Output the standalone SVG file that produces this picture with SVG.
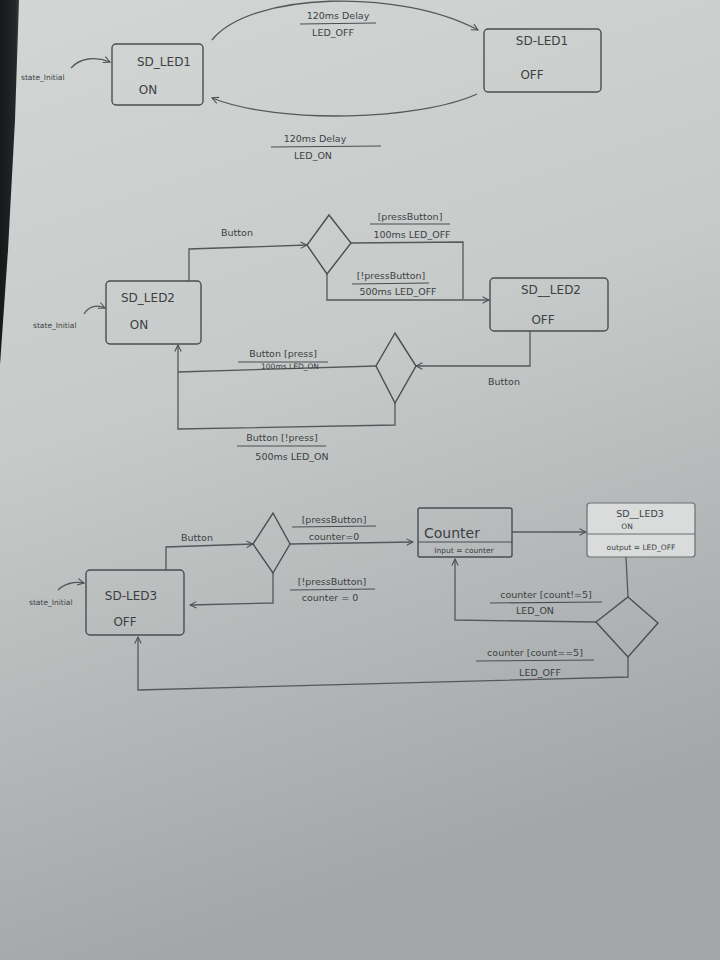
<svg xmlns="http://www.w3.org/2000/svg" width="720" height="960" viewBox="0 0 720 960">
<defs>
<linearGradient id="paper" x1="0" y1="0" x2="0.25" y2="1">
<stop offset="0" stop-color="#d3d6d5"/>
<stop offset="0.45" stop-color="#c6cac9"/>
<stop offset="1" stop-color="#a2a6a7"/>
</linearGradient>
<linearGradient id="edge" x1="0" y1="0" x2="1" y2="0">
<stop offset="0" stop-color="#16181a"/>
<stop offset="0.8" stop-color="#24272a"/>
<stop offset="1" stop-color="#3a3d40"/>
</linearGradient>
<marker id="arr" viewBox="0 0 10 10" refX="9" refY="5" markerWidth="8" markerHeight="8" orient="auto" markerUnits="userSpaceOnUse">
<path d="M1,1 L9,5 L1,9" fill="none" stroke="#4a4e52" stroke-width="1.3"/>
</marker>
<style>
.ln{fill:none;stroke:#54585c;stroke-width:1.3}
.box{fill:none;stroke:#4a4e52;stroke-width:1.4}
.t{font-family:"DejaVu Sans","Liberation Sans",sans-serif;fill:#3c3f43}
.n{font-size:12px}
.l{font-size:9.5px}
.s{font-size:7.5px}
.u{stroke:#4a4e52;stroke-width:1.1}
</style>
</defs>
<rect width="720" height="960" fill="url(#paper)"/>
<polygon points="0,0 19,0 15,120 8,250 0,365" fill="url(#edge)"/>

<g id="connectors">
<path class="ln" d="M212,40 C250,-8 400,-12 478,30" marker-end="url(#arr)"/>
<path class="ln" d="M477,94 C420,120 280,125 212,98" marker-end="url(#arr)"/>
<path class="ln" d="M71,68 C80,58 95,56 110,62" marker-end="url(#arr)"/>
<path class="ln" d="M84,314 C88,307 96,304 105,308" marker-end="url(#arr)"/>
<path class="ln" d="M189,281 L189,249 L307,245" marker-end="url(#arr)"/>
<path class="ln" d="M351,243 L463,242 L463,299"/>
<path class="ln" d="M327,274 L327,300 L489,300" marker-end="url(#arr)"/>
<path class="ln" d="M530,331 L530,366 L416,366" marker-end="url(#arr)"/>
<path class="ln" d="M376,366 L178,372"/>
<path class="ln" d="M395,403 L395,425 L178,429 L178,345" marker-end="url(#arr)"/>
<path class="ln" d="M58,590 C64,584 74,581 84,583" marker-end="url(#arr)"/>
<path class="ln" d="M166,570 L166,547 L253,544" marker-end="url(#arr)"/>
<path class="ln" d="M290,544 L413,542" marker-end="url(#arr)"/>
<path class="ln" d="M273,573 L273,603 L190,605" marker-end="url(#arr)"/>
<path class="ln" d="M512,532 L586,532" marker-end="url(#arr)"/>
<path class="ln" d="M626,557 L628,597"/>
<path class="ln" d="M596,622 L455,620 L455,559" marker-end="url(#arr)"/>
<path class="ln" d="M628,657 L628,677 L138,690 L138,637" marker-end="url(#arr)"/>
</g>

<g id="labels">
<text class="t l" x="338" y="19" text-anchor="middle">120ms Delay</text>
<line class="u" x1="300" y1="24" x2="376" y2="23"/>
<text class="t l" x="333" y="36" text-anchor="middle">LED_OFF</text>
<text class="t l" x="315" y="142" text-anchor="middle">120ms Delay</text>
<line class="u" x1="271" y1="147" x2="381" y2="146"/>
<text class="t l" x="313" y="159" text-anchor="middle">LED_ON</text>
<text class="t s" x="21" y="80">state_Initial</text>

<text class="t l" x="237" y="236" text-anchor="middle">Button</text>
<text class="t l" x="410" y="220" text-anchor="middle">[pressButton]</text>
<line class="u" x1="370" y1="224" x2="450" y2="224"/>
<text class="t l" x="412" y="238" text-anchor="middle">100ms LED_OFF</text>
<text class="t l" x="391" y="279" text-anchor="middle">[!pressButton]</text>
<line class="u" x1="352" y1="284" x2="429" y2="283"/>
<text class="t l" x="398" y="295" text-anchor="middle">500ms LED_OFF</text>
<text class="t l" x="504" y="385" text-anchor="middle">Button</text>
<text class="t l" x="283" y="357" text-anchor="middle">Button [press]</text>
<line class="u" x1="238" y1="362" x2="328" y2="362"/>
<text class="t s" x="290" y="369" text-anchor="middle">100ms LED_ON</text>
<text class="t l" x="282" y="441" text-anchor="middle">Button [!press]</text>
<line class="u" x1="237" y1="446" x2="326" y2="446"/>
<text class="t l" x="292" y="460" text-anchor="middle">500ms LED_ON</text>
<text class="t s" x="33" y="328">state_Initial</text>

<text class="t l" x="197" y="541" text-anchor="middle">Button</text>
<text class="t l" x="334" y="523" text-anchor="middle">[pressButton]</text>
<line class="u" x1="292" y1="527" x2="376" y2="526"/>
<text class="t l" x="334" y="540" text-anchor="middle">counter=0</text>
<text class="t l" x="332" y="585" text-anchor="middle">[!pressButton]</text>
<line class="u" x1="290" y1="590" x2="375" y2="589"/>
<text class="t l" x="330" y="601" text-anchor="middle">counter = 0</text>
<text class="t s" x="29" y="605">state_Initial</text>
<text class="t l" x="546" y="598" text-anchor="middle">counter [count!=5]</text>
<line class="u" x1="490" y1="603" x2="602" y2="602"/>
<text class="t l" x="535" y="614" text-anchor="middle">LED_ON</text>
<text class="t l" x="535" y="656" text-anchor="middle">counter [count==5]</text>
<line class="u" x1="476" y1="661" x2="594" y2="660"/>
<text class="t l" x="540" y="676" text-anchor="middle">LED_OFF</text>
</g>

<g id="sd_led1_on">
<rect class="box" x="112" y="44" width="91" height="61" rx="4"/>
<text class="t n" x="164" y="66" text-anchor="middle">SD_LED1</text>
<text class="t n" x="148" y="94" text-anchor="middle">ON</text>
</g>
<g id="sd_led1_off">
<rect class="box" x="484" y="29" width="117" height="63" rx="4"/>
<text class="t n" x="542" y="45" text-anchor="middle">SD-LED1</text>
<text class="t n" x="532" y="79" text-anchor="middle">OFF</text>
</g>

<g id="sd_led2_on">
<rect class="box" x="106" y="281" width="95" height="63" rx="4"/>
<text class="t n" x="148" y="302" text-anchor="middle">SD_LED2</text>
<text class="t n" x="139" y="329" text-anchor="middle">ON</text>
</g>
<g id="choice1">
<polygon class="box" points="329,215 351,243 327,274 307,245"/>
</g>
<g id="sd_led2_off">
<rect class="box" x="490" y="278" width="118" height="53" rx="4"/>
<text class="t n" x="551" y="294" text-anchor="middle">SD__LED2</text>
<text class="t n" x="543" y="324" text-anchor="middle">OFF</text>
</g>
<g id="choice2">
<polygon class="box" points="395,333 416,366 395,403 376,366"/>
</g>

<g id="sd_led3_off">
<rect class="box" x="86" y="570" width="98" height="65" rx="4"/>
<text class="t n" x="131" y="600" text-anchor="middle">SD-LED3</text>
<text class="t n" x="125" y="626" text-anchor="middle">OFF</text>
</g>
<g id="choice3">
<polygon class="box" points="273,513 290,544 273,573 253,544"/>
</g>
<g id="counter">
<rect class="box" x="418" y="508" width="94" height="49" rx="2"/>
<line class="u" x1="418" y1="542" x2="512" y2="542"/>
<text class="t" x="424" y="538" font-size="14">Counter</text>
<text class="t s" x="464" y="553" text-anchor="middle">Input = counter</text>
</g>
<g id="sd_led3_on">
<rect x="587" y="503" width="108" height="54" rx="3" fill="#d9dcdb" stroke="#6a6e72" stroke-width="1.2"/>
<line x1="587" y1="534" x2="695" y2="534" stroke="#6a6e72" stroke-width="1.1"/>
<text class="t l" x="640" y="517" text-anchor="middle" fill="#6a6d70">SD__LED3</text>
<text class="t s" x="627" y="529" text-anchor="middle" fill="#6a6d70">ON</text>
<text class="t s" x="641" y="550" text-anchor="middle" fill="#5a5d60">output = LED_OFF</text>
</g>
<g id="choice4">
<polygon class="box" points="628,597 658,623 628,657 596,622"/>
</g>
</svg>
